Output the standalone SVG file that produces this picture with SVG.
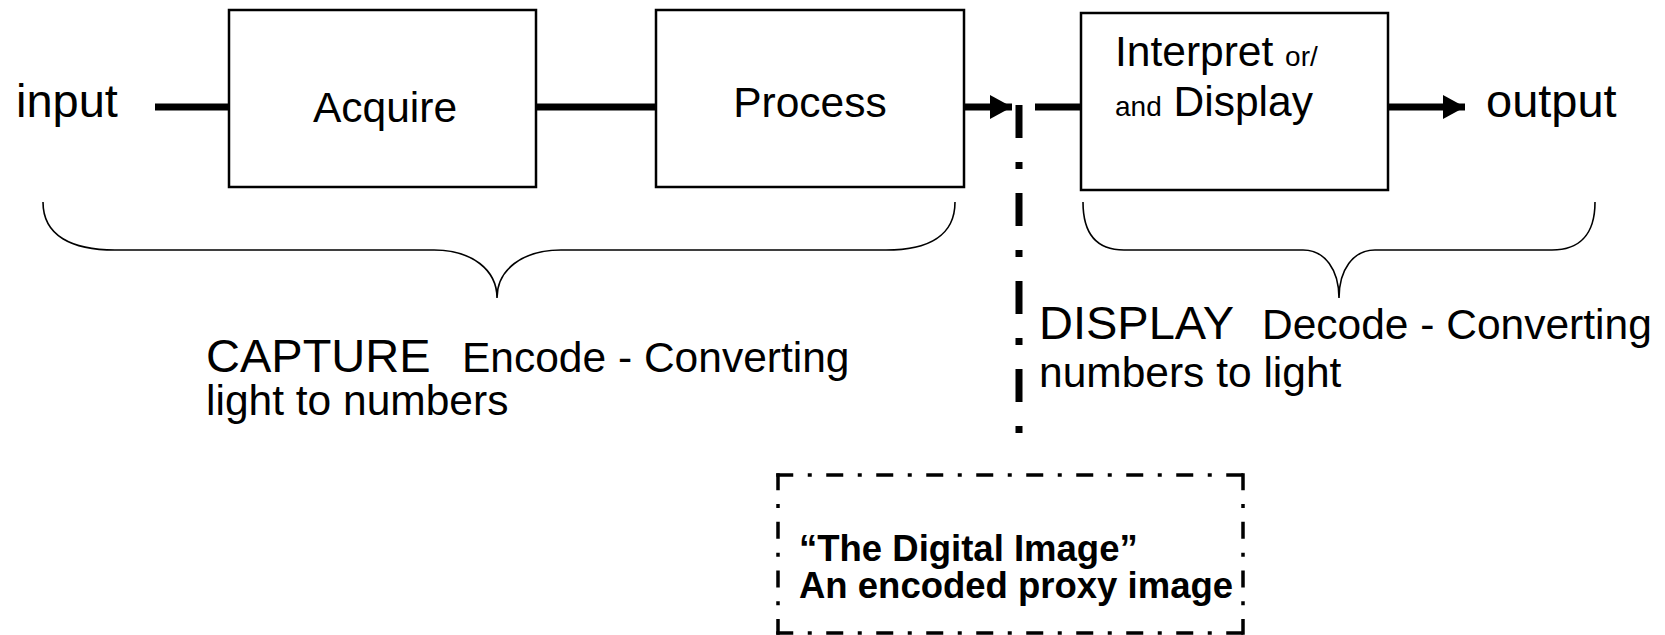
<svg xmlns="http://www.w3.org/2000/svg" width="1665" height="635" viewBox="0 0 1665 635">
  <style>
    .box { fill: #ffffff; stroke: #000000; stroke-width: 2.5; }
    .conn { stroke: #000000; stroke-width: 7; fill: none; }
    .brace { fill: none; stroke: #000000; stroke-width: 1.6; }
    .t { font-family: "Liberation Sans", Arial, sans-serif; fill: #000000; }
    .big { font-size: 47px; }
    .lab { font-size: 42.5px; }
    .small { font-size: 28px; }
    .bold { font-size: 36.5px; font-weight: bold; }
    .dd { stroke: #000000; stroke-width: 3.5; fill: none; }
  </style>
  <defs>
    <marker id="arrow" markerUnits="userSpaceOnUse" markerWidth="24" markerHeight="26" refX="22" refY="12" orient="auto">
      <path d="M0,0 L22,12 L0,24 Z" fill="#000000"/>
    </marker>
  </defs>
  <rect width="1665" height="635" fill="#ffffff"/>

  <g id="connectors">
    <line class="conn" x1="155" y1="107" x2="229" y2="107"/>
    <line class="conn" x1="536" y1="107" x2="656" y2="107"/>
    <line class="conn" x1="964" y1="107" x2="1012" y2="107" marker-end="url(#arrow)"/>
    <line class="conn" x1="1035" y1="107" x2="1081" y2="107"/>
    <line class="conn" x1="1388" y1="107" x2="1465" y2="107" marker-end="url(#arrow)"/>
    <line x1="1019" y1="105" x2="1019" y2="434" stroke="#000000" stroke-width="7" stroke-dasharray="33 24 7 24"/>
  </g>

  <g id="input">
    <text class="t big" x="16" y="117">input</text>
  </g>
  <g id="output">
    <text class="t big" x="1486" y="117">output</text>
  </g>

  <g id="acquire">
    <rect class="box" x="229" y="10" width="307" height="177"/>
    <text class="t lab" x="385" y="122" text-anchor="middle">Acquire</text>
  </g>
  <g id="process">
    <rect class="box" x="656" y="10" width="308" height="177"/>
    <text class="t lab" x="810" y="117" text-anchor="middle">Process</text>
  </g>
  <g id="interpret">
    <rect class="box" x="1081" y="13" width="307" height="177"/>
    <text class="t lab" x="1115" y="66">Interpret <tspan class="small">or/</tspan></text>
    <text class="t" x="1115" y="116"><tspan class="small">and</tspan><tspan class="lab"> Display</tspan></text>
  </g>

  <g id="capture-brace">
    <path class="brace" d="M43,202 C43,236 72,250 115,250 L434,250 C472,250 497,270 497,298 C497,270 522,250 561,250 L886,250 C928,250 955,236 955,202"/>
    <text class="t" y="372"><tspan class="big" x="206">CAPTURE</tspan><tspan class="lab" x="462">Encode - Converting</tspan></text>
    <text class="t lab" x="206" y="415">light to numbers</text>
  </g>

  <g id="display-brace">
    <path class="brace" d="M1083,202 C1083,236 1098,250 1124,250 L1303,250 C1325,250 1339,270 1339,298 C1339,270 1353,250 1375,250 L1552,250 C1578,250 1595,236 1595,202"/>
    <text class="t" y="339"><tspan class="big" x="1039">DISPLAY</tspan><tspan class="lab" x="1262">Decode - Converting</tspan></text>
    <text class="t lab" x="1039" y="387">numbers to light</text>
  </g>

  <g id="digital-image">
    <line class="dd" x1="776.25" y1="475" x2="1244.75" y2="475" stroke-dasharray="17 14.5 4 14.5"/>
    <line class="dd" x1="776.25" y1="633" x2="1244.75" y2="633" stroke-dasharray="17 14.5 4 14.5"/>
    <line class="dd" x1="778" y1="473.25" x2="778" y2="634.75" stroke-dasharray="17 13.8 4 13.8"/>
    <line class="dd" x1="1243" y1="473.25" x2="1243" y2="634.75" stroke-dasharray="17 13.8 4 13.8"/>
    <text class="t bold" x="799" y="561">“The Digital Image”</text>
    <text class="t bold" x="799" y="598">An encoded proxy image</text>
  </g>
</svg>
